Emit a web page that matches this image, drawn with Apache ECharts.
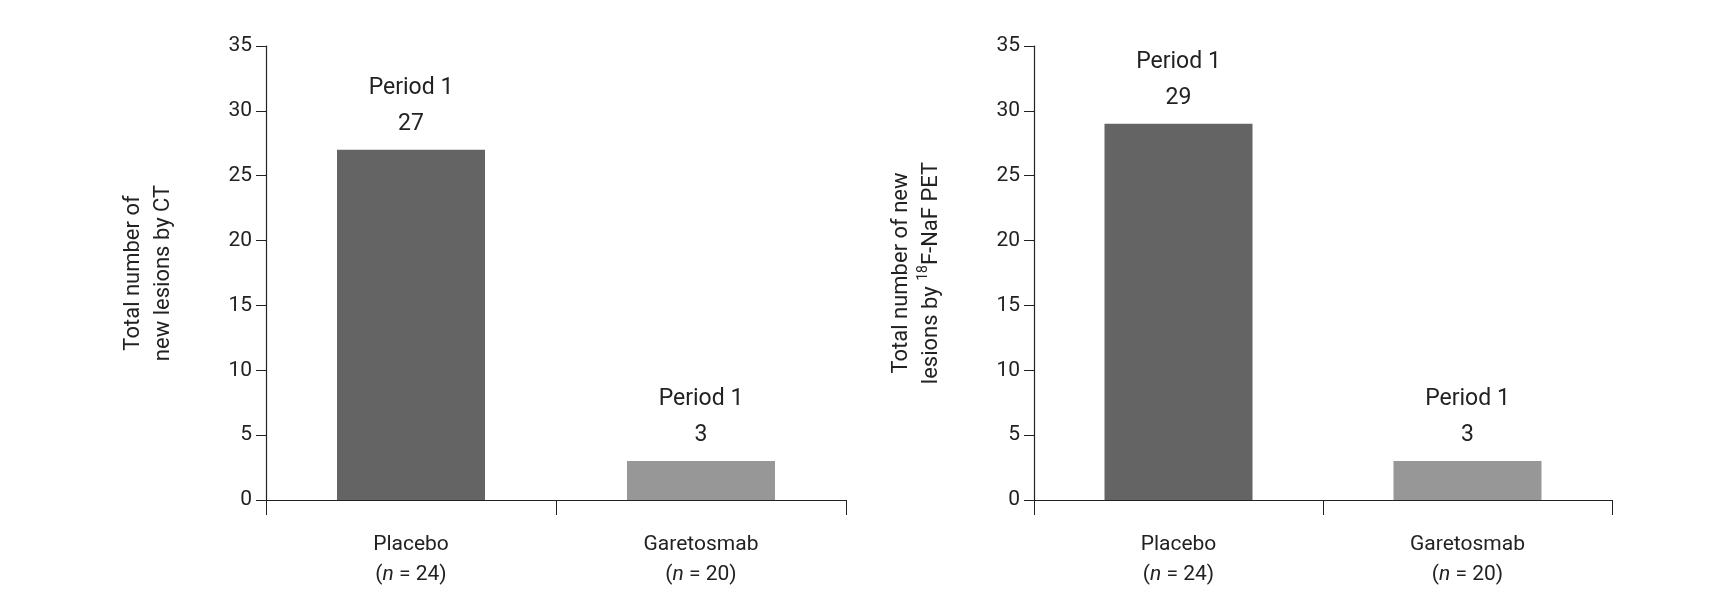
<!DOCTYPE html>
<html>
<head>
<meta charset="utf-8">
<script src="https://cdn.jsdelivr.net/npm/echarts@6/dist/echarts.min.js"></script>
<style>
  html, body { margin: 0; padding: 0; background: #fff; }
  #chart { width: 1734px; height: 598px; }
</style>
</head>
<body>
<div id="chart"></div>
<script>
// 数据
const categories = ['Placebo\n(n = 24)', 'Garetosmab\n(n = 20)'];
const ctValues = [27, 3];
const petValues = [29, 3];
const barColors = ['#646464', '#979797'];
const periodLabel = 'Period 1';

var chart = echarts.init(document.getElementById('chart'));
var font = 'Roboto';

function catLabel(v) {
    var parts = v.split('\n');
    var m = parts[1].match(/\((n) (.*)\)/);
    return parts[0] + '\n{p|(}{i|n}{p| ' + m[2] + ')}';
}

function makeYAxis(idx, name) {
    return {
        type: 'value', gridIndex: idx, min: 0, max: 35, interval: 5,
        name: name, nameLocation: 'middle', nameGap: 88, nameRotate: 90,
        nameTextStyle: {
            fontFamily: font, fontSize: 22, color: '#222', lineHeight: 30,
            rich: {
                s: { fontSize: 14, verticalAlign: 'top', lineHeight: 16, fontFamily: font, color: '#222' }
            }
        },
        axisLine: { show: true, lineStyle: { color: '#222', width: 1.2 } },
        axisTick: { show: true, length: 10, lineStyle: { color: '#222' } },
        axisLabel: { fontFamily: font, fontSize: 21, color: '#222', margin: 14 },
        splitLine: { show: false }
    };
}

function makeXAxis(idx) {
    return {
        type: 'category', gridIndex: idx, data: categories,
        axisLine: { lineStyle: { color: '#222', width: 1.2 } },
        axisTick: { show: true, length: 15, lineStyle: { color: '#222' } },
        axisLabel: {
            fontFamily: font, fontSize: 21, color: '#222', margin: 30, lineHeight: 30,
            formatter: catLabel,
            rich: {
                p: { fontFamily: font, fontSize: 21, color: '#222' },
                i: { fontFamily: font, fontSize: 21, color: '#222', fontStyle: 'italic' }
            }
        }
    };
}

function makeSeries(idx, values) {
    return {
        type: 'bar', xAxisIndex: idx, yAxisIndex: idx, barWidth: 148,
        data: values.map((v, i) => ({ value: v, itemStyle: { color: barColors[i] } })),
        label: {
            show: true, position: 'top', distance: 8,
            fontFamily: font, fontSize: 23, color: '#222', lineHeight: 36,
            formatter: (p) => periodLabel + '\n' + p.value
        }
    };
}

chart.setOption({
    animation: false,
    grid: [
        { left: 266, top: 46, width: 580, height: 454 },
        { left: 1034, top: 46, width: 578, height: 454 }
    ],
    xAxis: [makeXAxis(0), makeXAxis(1)],
    yAxis: [
        makeYAxis(0, 'Total number of\nnew lesions by CT'),
        makeYAxis(1, 'Total number of new\nlesions by {s|18}F-NaF PET')
    ],
    series: [makeSeries(0, ctValues), makeSeries(1, petValues)]
});
</script>
</body>
</html>
